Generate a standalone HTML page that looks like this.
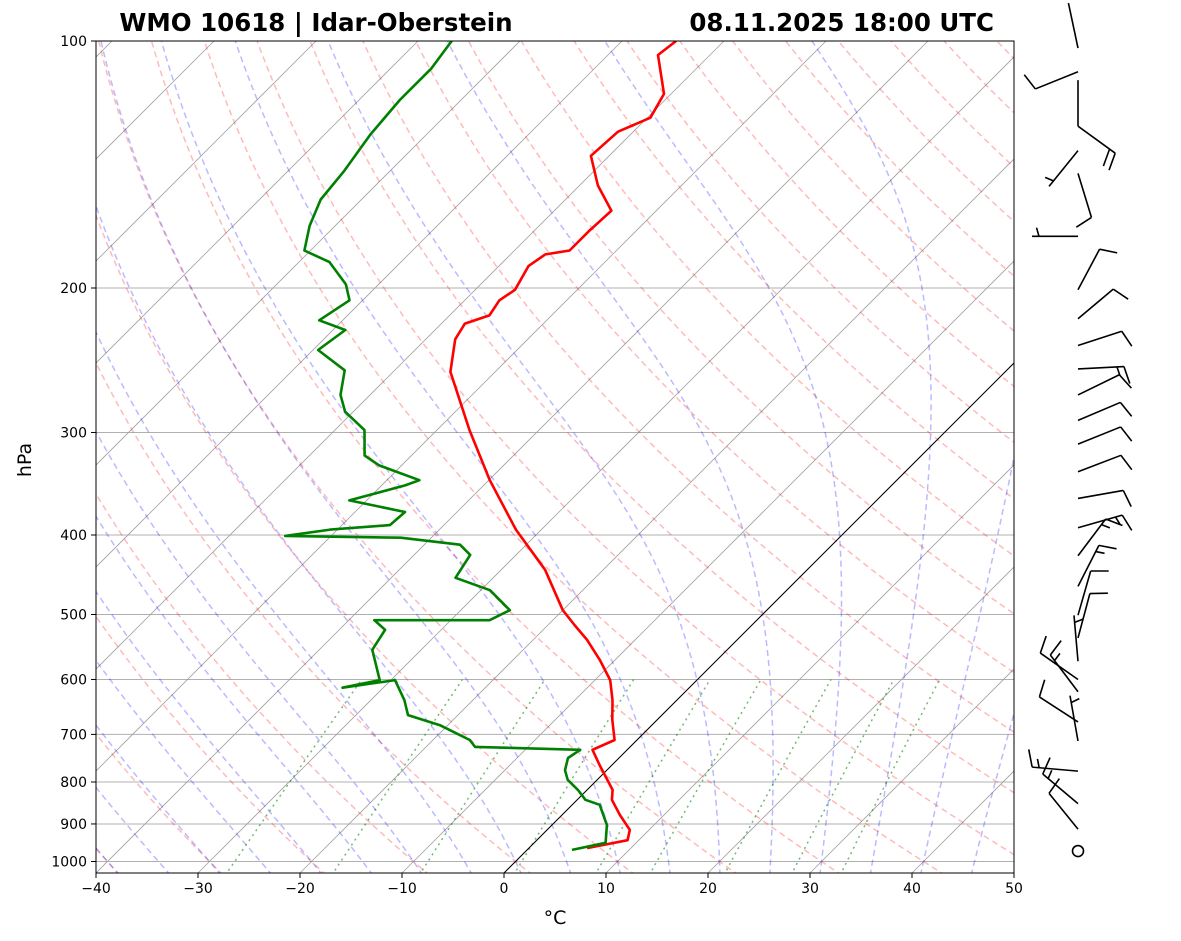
<!DOCTYPE html>
<html><head><meta charset="utf-8"><title>Skew-T WMO 10618</title>
<style>
html,body{margin:0;padding:0;background:#fff;}
svg{display:block;font-family:"DejaVu Sans","Liberation Sans",sans-serif;}
</style></head>
<body>
<svg id="chart" width="1181" height="941" viewBox="0 0 1181 941" xmlns="http://www.w3.org/2000/svg">
<defs><clipPath id="plotclip"><rect x="96" y="41" width="918" height="832"/></clipPath></defs>
<rect x="0" y="0" width="1181" height="941" fill="#fff"/>
<g id="bg" clip-path="url(#plotclip)"></g>
<g id="prof" clip-path="url(#plotclip)"></g>
<rect x="96" y="41" width="918" height="832" fill="none" stroke="#000" stroke-width="1"/>
<g id="axes"></g>
<g id="barbs"></g>
<text x="316" y="31" text-anchor="middle" font-size="24.5" font-weight="bold">WMO 10618 | Idar-Oberstein</text>
<text x="994" y="31" text-anchor="end" font-size="24.5" font-weight="bold">08.11.2025 18:00 UTC</text>
<text x="555" y="924" text-anchor="middle" font-size="19">°C</text>
<text transform="translate(31,460) rotate(-90)" text-anchor="middle" font-size="19">hPa</text>
</svg>
<script>
// ---- data ----
const tempP = [963,942,915,878,841,818,763,731,711,672,636,601,568,537,515,494,441,394,343,298,274,253,231,221,216,207,201,188,182,180,170,161,150,138,129,124,116,104,100];
const tempT = [5.7,8.9,8.1,5.7,3.4,2.5,-1.2,-3.4,-2.2,-4.4,-6.3,-8.5,-11.5,-14.7,-17.4,-20,-25.7,-32.5,-39.9,-46.8,-50.7,-54.4,-57.1,-57.7,-56.1,-56.6,-56.1,-57.1,-56.6,-54.6,-54.6,-54.4,-58.2,-61.8,-61.5,-59.7,-60.7,-65.1,-64.7];
const dewP = [968,949,903,853,841,818,795,774,748,731,725,711,682,663,636,601,614,601,552,522,508,508,494,467,451,423,411,403,401,394,389,375,363,348,343,329,320,298,283,270,252,238,225,219,207,198,186,180,168,156,144,130,118,108,100];
const dewT = [4.4,7.0,5.4,2.7,0.8,-0.9,-2.9,-4.1,-5,-4.6,-15.2,-16.4,-20.8,-24.9,-26.7,-29.6,-34,-31.1,-34.8,-35.5,-37.5,-26.2,-25.2,-29.1,-33.7,-34.5,-36.5,-43,-54.5,-50.7,-45.3,-45.1,-51.7,-47.7,-46.8,-52.2,-54.6,-57.1,-60.8,-62.9,-64.9,-69.5,-68.8,-72.3,-71.3,-73.2,-77,-80.6,-82.5,-84,-84.5,-85.5,-86,-86,-86.7];
const pressureTicks = [100,200,300,400,500,600,700,800,900,1000];
const tempTicks = [-40,-30,-20,-10,0,10,20,30,40,50];
const dryT0 = [-80,-70,-60,-50,-40,-30,-20,-10,0,10,20,30,40,50,60,70,80,90,100,110,120,130,140,150,160,170,180,190,200];
const moistT0 = [-40,-35,-30,-25,-20,-15,-10,-5,0,5,10,15,20,25,30,35,40,45];
const mixW = [0.0004,0.001,0.002,0.004,0.007,0.01,0.016,0.024,0.032];
// barbs: pressure, staff angle (deg, math convention), speed kt
const barbP = [102,109,127,127,136,145,173,201,218,235,251,270,290,310,335,361,392,424,462,501,534,570,600,621,676,713,776,850,913];
const barbAng = [102,202,90,-36,231,-73,180,62,40,18,3,26,23,22,21,10,16,53,63,74,75,95,145,127,147,100,175,140,129];
const barbKt = [2,10,2,20,5,10,5,10,10,10,15,10,10,10,10,10,15,15,15,10,10,5,10,15,10,5,15,15,10];
const calmP = 971;

const NS='http://www.w3.org/2000/svg';
const X0=96,X1=1014,YT=41,YB=873,DEC=820.5,PPD=10.2;
function yOf(p){return YT+DEC*Math.log10(p/100);}
function xOf(T,p){return X0+(T+40)*PPD+(YB-yOf(p));}
function mk(tag,attrs,parent){const e=document.createElementNS(NS,tag);for(const k in attrs)e.setAttribute(k,attrs[k]);parent.appendChild(e);return e;}
function pathD(pts){return pts.map((q,i)=>(i?'L':'M')+q[0].toFixed(1)+','+q[1].toFixed(1)).join('');}
const bg=document.getElementById('bg'),prof=document.getElementById('prof'),axes=document.getElementById('axes'),barbs=document.getElementById('barbs');

pressureTicks.forEach(p=>{
  const l=mk('line',{x1:X0,x2:X1,y1:yOf(p),y2:yOf(p),stroke:'#b0b0b0','stroke-width':1},bg);
  
  
});
for(let T=-140;T<=50;T+=10){
  const l=mk('line',{x1:xOf(T,1032),y1:yOf(1032),x2:xOf(T,100),y2:yOf(100),stroke:'#a0a0a0','stroke-width':0.8},bg);
  
  
}
dryT0.forEach(t0=>{
  const th=t0+273.15,pts=[];
  for(let p=1040;p>=98;p-=5){pts.push([xOf(th*Math.pow(p/1000,0.2857)-273.15,p),yOf(p)]);}
  const e=mk('path',{d:pathD(pts),fill:'none',stroke:'rgba(255,0,0,0.27)','stroke-width':1.5,'stroke-dasharray':'6,4'},bg);
  
  
});
function es(T){return 6.112*Math.exp(17.67*T/(T+243.5));}
function dTdp(T,p){const Tk=T+273.15,e=es(T),rs=0.622*e/(p-e);
  return (287.04*Tk+2.501e6*rs)/(1005.7+2.501e6*2.501e6*rs*0.622/(287.04*Tk*Tk))/p;}
moistT0.forEach(t0=>{
  let T=t0,up=[];for(let p=1000;p>=100;p-=2){up.push([xOf(T,p),yOf(p)]);T-=dTdp(T,p)*2;}
  T=t0;let dn=[];for(let p=1000;p<=1040;p+=2){dn.push([xOf(T,p),yOf(p)]);T+=dTdp(T,p)*2;}
  const pts=dn.reverse().concat(up);
  const e=mk('path',{d:pathD(pts),fill:'none',stroke:'rgba(0,0,255,0.27)','stroke-width':1.5,'stroke-dasharray':'6,4'},bg);
  
  
});
mixW.forEach(w=>{
  const pts=[];for(let p=1040;p>=600;p-=10){const e=w*p/(0.622+w),l=Math.log(e/6.112);pts.push([xOf(243.5*l/(17.67-l),p),yOf(p)]);}
  const e=mk('path',{d:pathD(pts),fill:'none',stroke:'rgba(0,128,0,0.55)','stroke-width':1.5,'stroke-dasharray':'2,4'},bg);
  
  
});
const z=mk('line',{x1:xOf(0,1032),y1:yOf(1032),x2:xOf(0,100),y2:yOf(100),stroke:'#000','stroke-width':1},bg);


const tl=mk('path',{d:pathD(tempP.map((p,i)=>[xOf(tempT[i],p),yOf(p)])),fill:'none',stroke:'#ff0000','stroke-width':2.6,'stroke-linejoin':'round'},prof);


const dl=mk('path',{d:pathD(dewP.map((p,i)=>[xOf(dewT[i],p),yOf(p)])),fill:'none',stroke:'#008000','stroke-width':2.6,'stroke-linejoin':'round'},prof);


pressureTicks.forEach(p=>{
  const y=yOf(p);
  mk('line',{x1:X0-5,x2:X0,y1:y,y2:y,stroke:'#000'},axes);
  const t=mk('text',{x:X0-9,y:y+5,'text-anchor':'end','font-size':14},axes);t.textContent=p;
  
  
});
tempTicks.forEach(T=>{
  const x=X0+(T+40)*PPD;
  mk('line',{x1:x,x2:x,y1:YB,y2:YB+5,stroke:'#000'},axes);
  const t=mk('text',{x:x,y:YB+20,'text-anchor':'middle','font-size':14},axes);t.textContent=(T<0?'\u2212'+(-T):T);
  
  
});
const BX=1078;
barbP.forEach((p,i)=>{
  const y=yOf(p),kt=barbKt[i];
  const a=barbAng[i]*Math.PI/180,dx=Math.cos(a),dy=-Math.sin(a),L=46;
  const tx=BX+dx*L,ty=y+dy*L;
  const g=mk('g',{},barbs);
  
  
  mk('line',{x1:BX,y1:y,x2:tx,y2:ty,stroke:'#000','stroke-width':1.6},g);
  const r=74*Math.PI/180,bx=dx*Math.cos(r)-dy*Math.sin(r),by=dx*Math.sin(r)+dy*Math.cos(r);
  let s=kt,pos=0;
  while(s>=10){const px=tx-dx*pos*7,py=ty-dy*pos*7;mk('line',{x1:px,y1:py,x2:px+bx*18,y2:py+by*18,stroke:'#000','stroke-width':1.6},g);s-=10;pos++;}
  if(s>=5){if(pos===0)pos=1;const px=tx-dx*pos*7,py=ty-dy*pos*7;mk('line',{x1:px,y1:py,x2:px+bx*9,y2:py+by*9,stroke:'#000','stroke-width':1.6},g);}
});
const calm=mk('circle',{cx:BX,cy:yOf(calmP),r:5.5,fill:'none',stroke:'#000','stroke-width':1.6},barbs);


</script>
</body></html>
